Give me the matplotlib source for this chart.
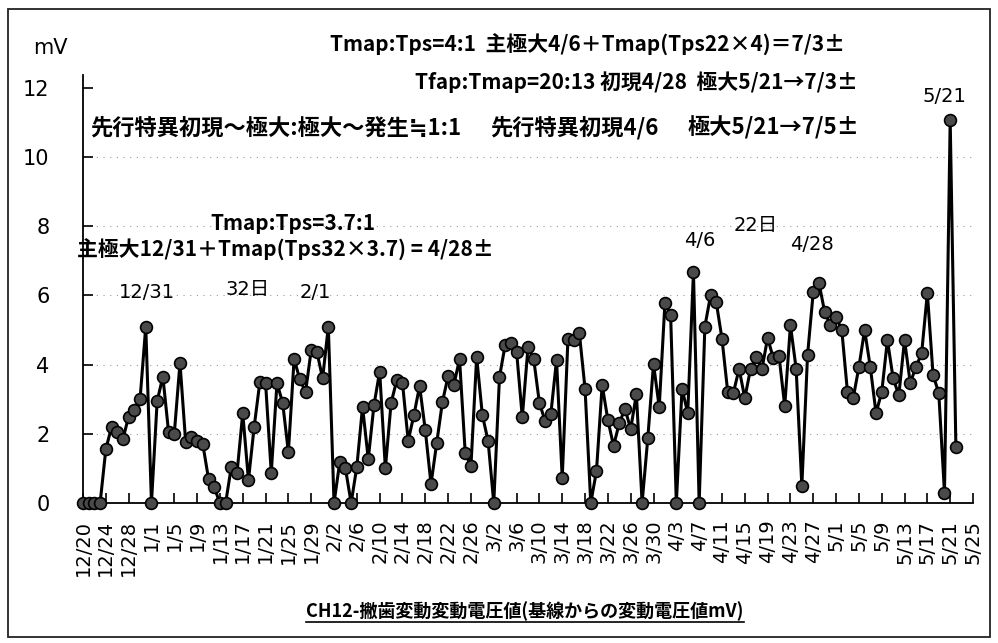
import matplotlib
matplotlib.use('Agg')
import matplotlib.pyplot as plt
from matplotlib.lines import Line2D
from matplotlib.patches import Rectangle
import numpy as np

plt.rcParams['font.family'] = ['Noto Sans CJK JP', 'DejaVu Sans']
LATIN = ['DejaVu Sans', 'Noto Sans CJK JP']

# daily values (mV), day 0 = 12/20, last value = 5/22
voltage = [
    0, 0, 0, 0, 1.55, 2.2, 2.05, 1.85, 2.5, 2.7,
    3.0, 5.1, 0, 2.95, 3.65, 2.05, 2.0, 4.05, 1.75, 1.9,
    1.8, 1.7, 0.7, 0.45, 0, 0, 1.05, 0.87, 2.6, 0.66,
    2.2, 3.5, 3.47, 0.87, 3.47, 2.89, 1.47, 4.16, 3.58, 3.2,
    4.42, 4.37, 3.6, 5.1, 0, 1.18, 1.0, 0, 1.05, 2.78,
    1.27, 2.83, 3.8, 1.0, 2.89, 3.55, 3.47, 1.8, 2.54, 3.38,
    2.1, 0.55, 1.73, 2.92, 3.67, 3.41, 4.16, 1.44, 1.07, 4.22,
    2.54, 1.8, 0, 3.64, 4.57, 4.62, 4.37, 2.48, 4.5, 4.16,
    2.89, 2.37, 2.57, 4.13, 0.72, 4.74, 4.71, 4.91, 3.3, 0,
    0.92, 3.41, 2.4, 1.65, 2.31, 2.72, 2.14, 3.15, 0, 1.88,
    4.02, 2.77, 5.78, 5.43, 0, 3.3, 2.6, 6.68, 0, 5.1,
    6.0, 5.8, 4.75, 3.22, 3.18, 3.88, 3.03, 3.87, 4.22, 3.87,
    4.77, 4.19, 4.25, 2.8, 5.14, 3.88, 0.49, 4.28, 6.1, 6.36,
    5.52, 5.14, 5.38, 5.0, 3.2, 3.03, 3.93, 5.0, 3.93, 2.6,
    3.2, 4.71, 3.6, 3.12, 4.71, 3.47, 3.93, 4.33, 6.07, 3.7,
    3.18, 0.3, 11.07, 1.62,
]

tick_labels = [
    '12/20', '12/24', '12/28', '1/1', '1/5', '1/9', '1/13', '1/17', '1/21', '1/25',
    '1/29', '2/2', '2/6', '2/10', '2/14', '2/18', '2/22', '2/26', '3/2', '3/6',
    '3/10', '3/14', '3/18', '3/22', '3/26', '3/30', '4/3', '4/7', '4/11', '4/15',
    '4/19', '4/23', '4/27', '5/1', '5/5', '5/9', '5/13', '5/17', '5/21', '5/25',
]
tick_step = 4
n_days = 157  # 12/20 .. 5/25

W, H = 998, 643


def fx(px):
    return px / W


def fy(py):
    return 1 - py / H


fig = plt.figure(figsize=(W / 100, H / 100), dpi=100)
fig.patch.set_facecolor('white')
fig.add_artist(Rectangle((fx(8), fy(637)), fx(990) - fx(8), fy(9) - fy(637),
                         transform=fig.transFigure, fill=False, lw=1.3, ec='#222'))

ax = fig.add_axes([fx(83), fy(503), fx(973) - fx(83), fy(75) - fy(503)])
days = np.arange(len(voltage))
for v in range(2, 12, 2):
    ax.axhline(v, color='#999999', lw=0.8, ls=(0, (1, 5)), zorder=1)
ax.plot(days, voltage, color='black', lw=2.2, marker='o', ms=8.5,
        mfc='#4a4a4a', mec='black', mew=1.2, clip_on=False, zorder=3)

ax.set_xlim(0, n_days - 1)
ax.set_ylim(0, 12.37)
ax.set_yticks(range(0, 13, 2))
ax.set_xticks(np.arange(0, n_days, tick_step))
ax.set_xticklabels(tick_labels, rotation=90)
for lab in ax.get_xticklabels() + ax.get_yticklabels():
    lab.set_family(LATIN)
for s in ['top', 'right']:
    ax.spines[s].set_visible(False)
for s in ['left', 'bottom']:
    ax.spines[s].set_linewidth(1.3)
ax.tick_params(direction='in', length=7, width=1.2)
ax.tick_params(axis='y', pad=24, labelsize=15)
ax.tick_params(axis='x', pad=12, labelsize=14)

fig.text(fx(33), fy(48), 'mV', fontsize=15, family=LATIN, ha='left', va='center')

bold_notes = [
    (330, 45, 15, 'Tmap:Tps=4:1  主極大4/6＋Tmap(Tps22×4)＝7/3±'),
    (415, 82, 15, 'Tfap:Tmap=20:13 初現4/28  極大5/21→7/3±'),
    (90, 128, 16, '先行特異初現～極大:極大～発生≒1:1'),
    (490, 128, 16, '先行特異初現4/6'),
    (688, 128, 16, '極大5/21→7/5±'),
    (210, 224, 15, 'Tmap:Tps=3.7:1'),
    (77, 250, 15, '主極大12/31＋Tmap(Tps32×3.7) = 4/28±'),
]
for x, y, size, s in bold_notes:
    fig.text(fx(x), fy(y), s, fontsize=size, fontweight='bold', ha='left', va='center')

labels = [
    (147, 292, '12/31'), (248, 289, '32日'), (315, 293, '2/1'),
    (700, 241, '4/6'), (756, 225, '22日'), (812, 245, '4/28'), (944, 97, '5/21'),
]
for x, y, s in labels:
    fig.text(fx(x), fy(y), s, fontsize=14, family=LATIN, ha='center', va='center')

title = fig.text(fx(525), fy(611), 'CH12-撇歯変動変動電圧値(基線からの変動電圧値mV)',
                 fontsize=13, fontweight='bold', ha='center', va='center')
fig.canvas.draw()
bb = title.get_window_extent().transformed(fig.transFigure.inverted())
fig.add_artist(Line2D([bb.x0, bb.x1], [bb.y0 - 0.002, bb.y0 - 0.002],
                      transform=fig.transFigure, color='black', lw=1.2))

fig.savefig('out.png', dpi=100)
